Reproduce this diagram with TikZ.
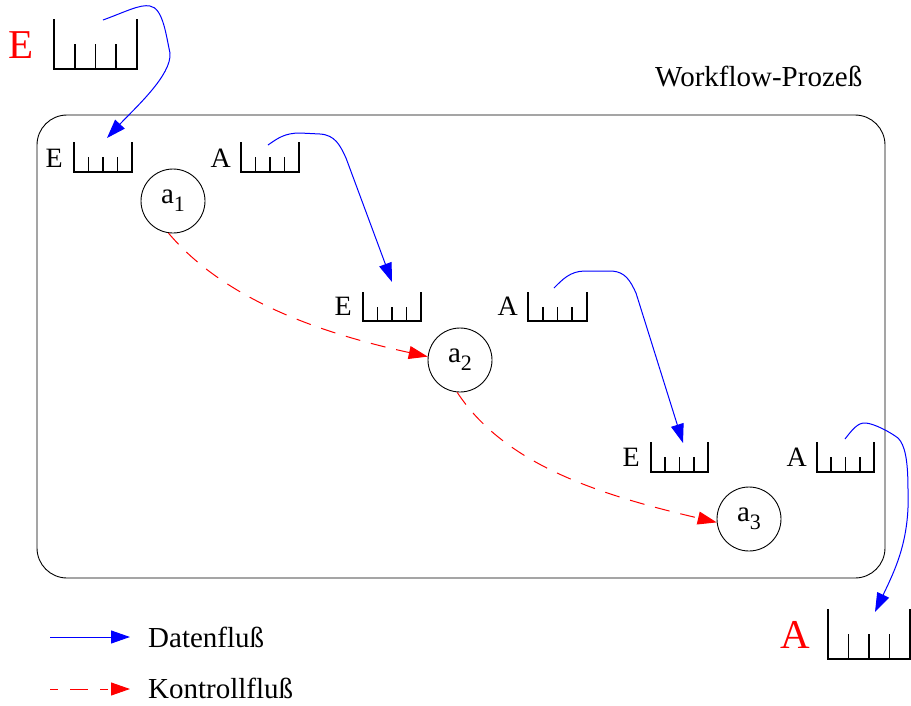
\documentclass[tikz,border=0pt]{standalone}
\usepackage{fontspec}
\setmainfont{Liberation Serif}
\usetikzlibrary{arrows.meta}
\definecolor{dblue}{RGB}{0,0,255}
\definecolor{cred}{RGB}{255,0,0}
\tikzset{
  queue/.style={line width=1.6pt, black},
  lbl/.style={inner sep=0pt, anchor=base east, font=\fontsize{28}{30}\selectfont},
  biglbl/.style={inner sep=0pt, anchor=base east, text=cred, font=\fontsize{41}{44}\selectfont},
  txt/.style={inner sep=0pt, anchor=base west, font=\fontsize{29}{31}\selectfont},
  act/.style={draw, circle, line width=0.9pt, minimum size=64pt, inner sep=0pt, font=\fontsize{29}{30}\selectfont},
  dataflow/.style={dblue, line width=1pt, -{Triangle[length=19pt,width=13pt]}},
  ctrlflow/.style={cred, line width=1pt, dash pattern=on 15pt off 11pt, -{Triangle[length=19pt,width=13pt]}},
}
\newcommand\wfqueue[4]{%
  \draw[queue] (#1,#2) |- (#3,#4) -- (#3,#2);
  \foreach \i in {1,2,3}{\draw[queue] ({#1+\i*(#3-#1)/4},#4) -- ({#1+\i*(#3-#1)/4},{(#2+#4)/2});}%
}
\newcommand\asub[1]{a\raisebox{-8pt}{\fontsize{22}{22}\selectfont #1}}
\begin{document}
\begin{tikzpicture}[x=1pt,y=-1pt]
\useasboundingbox (0,0) rectangle (911,705);
% process frame
\draw[line width=0.9pt, rounded corners=30pt] (37,115) rectangle (885,578);
\node[txt] (wf) at (655,86) {Workflow-Prozeß};
% big external queues
\node[biglbl] (bigE) at (34,58) {E};
\wfqueue{54}{19}{137}{69}
\node[biglbl] (bigA) at (810,648) {A};
\wfqueue{828}{609}{910}{659}
% inner queues
\node[lbl] (E1) at (63,167) {E};
\wfqueue{74}{142}{132}{172}
\node[lbl] (A1) at (231,167) {A};
\wfqueue{241}{142}{299}{172}
\node[lbl] (E2) at (352,315) {E};
\wfqueue{363}{292}{421}{321}
\node[lbl] (A2) at (518,315) {A};
\wfqueue{528}{292}{587}{321}
\node[lbl] (E3) at (640,466) {E};
\wfqueue{651}{442}{708}{472}
\node[lbl] (A3) at (807,466) {A};
\wfqueue{817}{442}{874}{472}
% activities
\node[act] (a1) at (173,201) {\asub{1}};
\node[act] (a2) at (460,360) {\asub{2}};
\node[act] (a3) at (749,519) {\asub{3}};
% data flow coordinates
\coordinate (s0) at (103,20);  \coordinate (t0) at (107,138);
\coordinate (s1) at (268,145); \coordinate (t1) at (392,282);
\coordinate (s2) at (554,288); \coordinate (t2) at (683,443);
\coordinate (s3) at (845,439); \coordinate (t3) at (875,612);
\draw[dataflow] (s0) .. controls (125,12) and (140,4) .. (150,6)
  .. controls (163,8) and (166,35) .. (170,53)
  .. controls (172,75) and (135,108) .. (t0);
\draw[dataflow] (s1) .. controls (278,138) and (285,133) .. (300,133) -- (320,134)
  .. controls (335,135) and (340,145) .. (346,158) -- (t1);
\draw[dataflow] (s2) .. controls (562,280) and (570,271) .. (585,271) -- (612,271)
  .. controls (625,272) and (630,280) .. (636,293) -- (t2);
\draw[dataflow] (s3) .. controls (852,430) and (858,422) .. (866,423)
  .. controls (875,424) and (890,432) .. (898,438)
  .. controls (905,445) and (908,460) .. (908,490)
  .. controls (910,540) and (895,570) .. (t3);
% control flow
\draw[ctrlflow] (a1.-98) .. controls (225,300) and (320,333) .. (a2.174);
\draw[ctrlflow] (a2.-95) .. controls (505,465) and (600,495) .. (a3.186);
% legend
\coordinate (l1a) at (50,637); \coordinate (l1b) at (130,637);
\coordinate (l2a) at (50,689); \coordinate (l2b) at (130,689);
\draw[dataflow] (l1a) -- (l1b);
\draw[ctrlflow, dash pattern=on 8pt off 12pt on 18pt off 12pt] (l2a) -- (l2b);
\node[txt] (ld) at (148,647) {Datenfluß};
\node[txt] (lk) at (148,698) {Kontrollfluß};
\end{tikzpicture}
\end{document}
